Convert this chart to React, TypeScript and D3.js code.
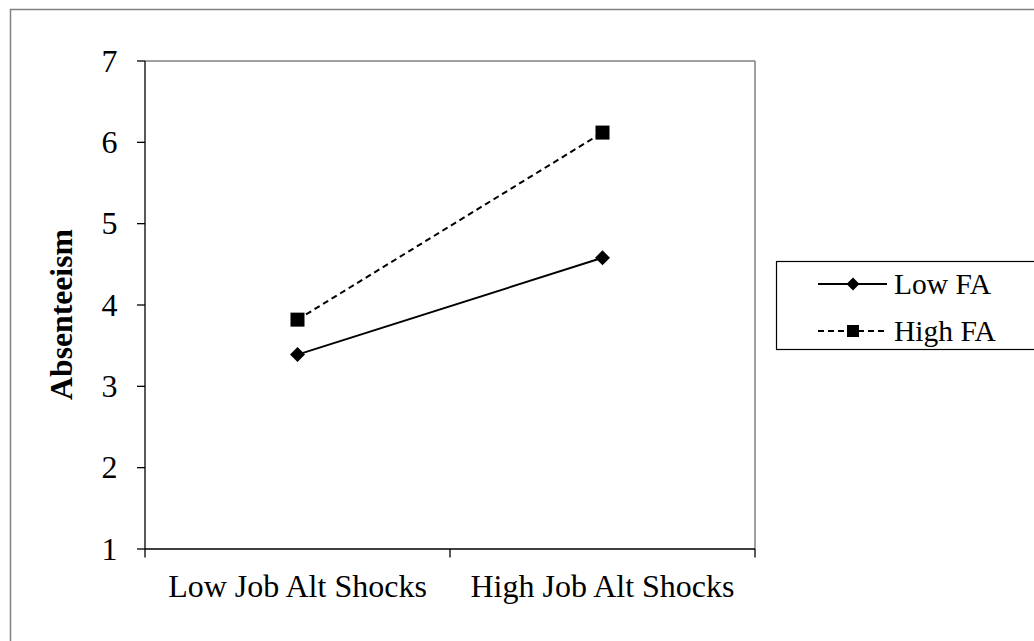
import React from "react";
import * as d3 from "d3";

const categories = ["Low Job Alt Shocks", "High Job Alt Shocks"];
const lowFA = [3.39, 4.58];
const highFA = [3.82, 6.12];
const yTicks = [1, 2, 3, 4, 5, 6, 7];
const seriesNames = ["Low FA", "High FA"];

const W = 1034;
const H = 641;
const FONT = "'Liberation Serif', 'Times New Roman', serif";

export default function App() {
  const plot = { left: 145, top: 61, right: 755, bottom: 549 };
  const x = d3.scaleBand<string>().domain(categories).range([plot.left, plot.right]);
  const y = d3.scaleLinear().domain([1, 7]).range([plot.bottom, plot.top]);
  const line = d3
    .line<number>()
    .x((_, i) => (x(categories[i]) as number) + x.bandwidth() / 2)
    .y((d) => y(d));

  const diamond = (cx: number, cy: number, r: number) =>
    `M${cx},${cy - r}L${cx + r},${cy}L${cx},${cy + r}L${cx - r},${cy}Z`;

  const xBoundaries = [plot.left, ...categories.map((c) => (x(c) as number) + x.bandwidth())];

  const legend = { x: 776, y: 261.5, w: 260, h: 88 };
  const legRows = [284, 331];

  return (
    <svg
      width={W}
      height={H}
      style={{ position: "absolute", left: 0, top: 0, background: "#fff" }}
      fontFamily={FONT}
    >
      <rect x={0} y={0} width={W} height={H} fill="#fff" />
      {/* outer frame */}
      <rect x={10.5} y={9.5} width={W + 20} height={H + 20} fill="none" stroke="#808080" strokeWidth={1.5} />
      {/* plot frame top/right */}
      <line x1={plot.left} y1={plot.top} x2={plot.right} y2={plot.top} stroke="#808080" strokeWidth={1.5} />
      <line x1={plot.right} y1={plot.top} x2={plot.right} y2={plot.bottom} stroke="#808080" strokeWidth={1.5} />
      {/* y axis */}
      <line x1={plot.left} y1={plot.top} x2={plot.left} y2={plot.bottom} stroke="#000" strokeWidth={1.3} />
      {yTicks.map((t) => (
        <g key={t}>
          <line x1={plot.left - 8} x2={plot.left} y1={y(t)} y2={y(t)} stroke="#000" strokeWidth={1.3} />
          <text x={117.5} y={y(t) + 10.5} textAnchor="end" fontSize={32}>
            {t}
          </text>
        </g>
      ))}
      {/* x axis */}
      <line x1={plot.left} y1={plot.bottom} x2={plot.right} y2={plot.bottom} stroke="#000" strokeWidth={1.3} />
      {xBoundaries.map((bx, i) => (
        <line key={i} x1={bx} x2={bx} y1={plot.bottom} y2={plot.bottom + 8.5} stroke="#000" strokeWidth={1.3} />
      ))}
      {categories.map((c) => (
        <text key={c} x={(x(c) as number) + x.bandwidth() / 2} y={596.5} textAnchor="middle" fontSize={32}>
          {c}
        </text>
      ))}
      {/* y title */}
      <text
        transform={`translate(72,314.5) rotate(-90)`}
        textAnchor="middle"
        fontSize={31.7}
        fontWeight="bold"
      >
        Absenteeism
      </text>
      {/* series */}
      <path d={line(lowFA) || ""} fill="none" stroke="#000" strokeWidth={2} />
      <path d={line(highFA) || ""} fill="none" stroke="#000" strokeWidth={2} strokeDasharray="6,4" />
      {lowFA.map((v, i) => {
        const cx = (x(categories[i]) as number) + x.bandwidth() / 2;
        return <path key={"l" + i} d={diamond(cx, y(v), 7.5)} fill="#000" />;
      })}
      {highFA.map((v, i) => {
        const cx = (x(categories[i]) as number) + x.bandwidth() / 2;
        return <rect key={"h" + i} x={cx - 7} y={y(v) - 7} width={14} height={14} fill="#000" />;
      })}
      {/* legend */}
      <rect x={legend.x + 0.5} y={legend.y} width={legend.w} height={legend.h} fill="#fff" stroke="#000" strokeWidth={1.2} />
      {seriesNames.map((s, i) => {
        const ly = legRows[i];
        return (
          <g key={s}>
            <line
              x1={818}
              x2={887}
              y1={ly}
              y2={ly}
              stroke="#000"
              strokeWidth={2}
              strokeDasharray={i === 1 ? "6,4" : undefined}
            />
            {i === 0 ? (
              <path d={diamond(853, ly, 6.5)} fill="#000" />
            ) : (
              <rect x={847} y={ly - 6} width={12} height={12} fill="#000" />
            )}
            <text x={894} y={ly + 10} fontSize={29.5}>
              {s}
            </text>
          </g>
        );
      })}
    </svg>
  );
}
